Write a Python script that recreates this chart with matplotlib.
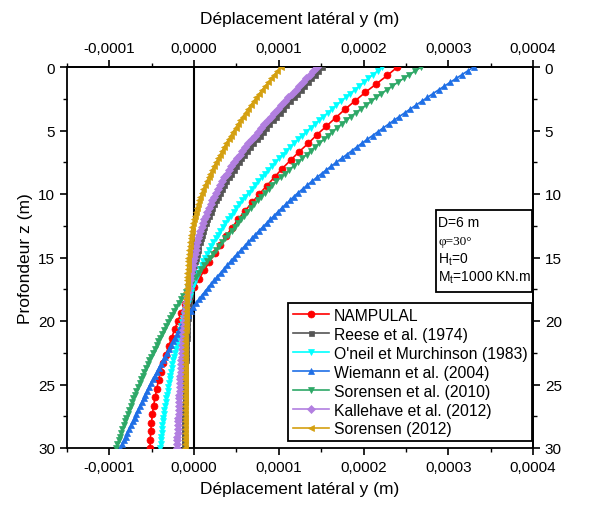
import numpy as np
import matplotlib
matplotlib.use('Agg')
import matplotlib.pyplot as plt
from matplotlib.ticker import MultipleLocator, FuncFormatter, FixedLocator
from matplotlib.patches import Rectangle

plt.rcParams['font.family'] = ['Liberation Sans', 'DejaVu Sans']
plt.rcParams['mathtext.fontset'] = 'custom'
plt.rcParams['mathtext.rm'] = 'Liberation Sans'
plt.rcParams['mathtext.it'] = 'Liberation Sans:italic'

# lateral displacement values in units of 1e-5 m
SCALE = 1e-5
depth_fine = np.linspace(0, 30, 101)      # 101 depths, 0.3 m step
depth_red = np.linspace(0, 30, 46)        # 46 depths for NAMPULAL

x_ticks = [-0.0001, 0.0, 0.0001, 0.0002, 0.0003, 0.0004]
x_minor = [-0.00015, -0.00005, 0.00005, 0.00015, 0.00025, 0.00035]
y_ticks = [0, 5, 10, 15, 20, 25, 30]
y_minor = [2.5, 7.5, 12.5, 17.5, 22.5, 27.5]

nampulal = [24.0, 22.8, 21.5, 20.2, 19.0, 17.8, 16.7, 15.6, 14.5, 13.5,
            12.4, 11.4, 10.4, 9.5, 8.6, 7.7, 6.85, 6.0, 5.2, 4.45,
            3.75, 3.1, 2.45, 1.8, 1.2, 0.6, 0.0, -0.55, -1.05, -1.5,
            -1.9, -2.3, -2.65, -3.0, -3.35, -3.65, -3.95, -4.2, -4.4, -4.6,
            -4.78, -4.92, -5.03, -5.11, -5.17, -5.2]

reese = [15.1, 14.68, 14.26, 13.84, 13.42, 13.0, 12.58, 12.16, 11.74, 11.32,
         10.9, 10.5, 10.09, 9.69, 9.29, 8.9, 8.51, 8.13, 7.75, 7.38,
         7.0, 6.64, 6.28, 5.92, 5.59, 5.28, 4.96, 4.66, 4.37, 4.09,
         3.8, 3.55, 3.29, 3.04, 2.8, 2.58, 2.35, 2.14, 1.94, 1.75,
         1.55, 1.39, 1.22, 1.06, 0.91, 0.78, 0.64, 0.52, 0.41, 0.31,
         0.2, 0.11, 0.02, -0.07, -0.14, -0.21, -0.28, -0.34, -0.39, -0.45,
         -0.5, -0.55, -0.59, -0.64, -0.67, -0.71, -0.75, -0.78, -0.81, -0.84,
         -0.87, -0.89, -0.91, -0.93, -0.95, -0.97, -0.99, -1.01, -1.02, -1.04,
         -1.05, -1.06, -1.07, -1.09, -1.10, -1.11, -1.11, -1.12, -1.13, -1.14,
         -1.15, -1.16, -1.16, -1.17, -1.17, -1.18, -1.19, -1.19, -1.19, -1.2,
         -1.2]

oneil = [22.2, 21.66, 21.12, 20.58, 20.04, 19.5, 18.96, 18.42, 17.88, 17.34,
         16.8, 16.29, 15.78, 15.27, 14.76, 14.25, 13.74, 13.24, 12.76, 12.28,
         11.8, 11.35, 10.9, 10.45, 10.02, 9.6, 9.18, 8.77, 8.38, 7.99,
         7.6, 7.21, 6.82, 6.43, 6.06, 5.7, 5.34, 4.99, 4.66, 4.33,
         4.0, 3.7, 3.4, 3.1, 2.82, 2.55, 2.28, 2.02, 1.78, 1.54,
         1.3, 1.09, 0.88, 0.67, 0.48, 0.3, 0.12, -0.05, -0.2, -0.35,
         -0.5, -0.64, -0.77, -0.91, -1.03, -1.15, -1.27, -1.39, -1.51, -1.63,
         -1.75, -1.86, -1.96, -2.07, -2.17, -2.28, -2.38, -2.48, -2.57, -2.66,
         -2.75, -2.83, -2.9, -2.98, -3.05, -3.13, -3.2, -3.28, -3.35, -3.43,
         -3.5, -3.56, -3.62, -3.68, -3.73, -3.78, -3.82, -3.87, -3.91, -3.96,
         -4.0]

wiemann = [33.0, 32.31, 31.62, 30.93, 30.24, 29.55, 28.86, 28.18, 27.52, 26.86,
           26.2, 25.54, 24.88, 24.22, 23.58, 22.95, 22.32, 21.69, 21.06, 20.43,
           19.8, 19.2, 18.6, 18.0, 17.4, 16.8, 16.2, 15.61, 15.04, 14.47,
           13.9, 13.36, 12.82, 12.28, 11.78, 11.3, 10.82, 10.35, 9.9, 9.45,
           9.0, 8.55, 8.1, 7.65, 7.22, 6.8, 6.38, 5.96, 5.54, 5.12,
           4.7, 4.31, 3.92, 3.53, 3.14, 2.75, 2.36, 1.98, 1.62, 1.26,
           0.9, 0.57, 0.24, -0.09, -0.4, -0.7, -1.0, -1.28, -1.52, -1.76,
           -2.0, -2.24, -2.48, -2.72, -2.96, -3.2, -3.44, -3.68, -3.92, -4.16,
           -4.4, -4.64, -4.88, -5.12, -5.34, -5.55, -5.76, -5.97, -6.18, -6.39,
           -6.6, -6.81, -7.02, -7.23, -7.44, -7.65, -7.86, -8.07, -8.28, -8.49,
           -8.7]

sorensen2010 = [26.8, 26.11, 25.42, 24.73, 24.06, 23.4, 22.74, 22.1, 21.5, 20.9,
                20.3, 19.7, 19.1, 18.5, 17.94, 17.4, 16.86, 16.33, 15.82, 15.31,
                14.8, 14.29, 13.78, 13.27, 12.76, 12.25, 11.74, 11.23, 10.72, 10.21,
                9.7, 9.25, 8.8, 8.35, 7.92, 7.5, 7.08, 6.67, 6.28, 5.89,
                5.5, 5.14, 4.78, 4.42, 4.06, 3.7, 3.34, 2.98, 2.62, 2.26,
                1.9, 1.56, 1.21, 0.87, 0.54, 0.23, -0.09, -0.4, -0.7, -1.0,
                -1.3, -1.57, -1.84, -2.11, -2.36, -2.6, -2.84, -3.08, -3.32, -3.56,
                -3.8, -4.01, -4.22, -4.43, -4.64, -4.85, -5.06, -5.27, -5.48, -5.69,
                -5.9, -6.08, -6.26, -6.44, -6.62, -6.8, -6.98, -7.16, -7.32, -7.49,
                -7.65, -7.82, -7.98, -8.15, -8.3, -8.45, -8.6, -8.75, -8.9, -9.05,
                -9.2]

kallehave = [14.5, 14.08, 13.66, 13.24, 12.82, 12.4, 11.98, 11.56, 11.14, 10.72,
             10.3, 9.9, 9.49, 9.09, 8.69, 8.3, 7.91, 7.53, 7.15, 6.78,
             6.4, 6.06, 5.71, 5.37, 5.04, 4.73, 4.41, 4.11, 3.84, 3.57,
             3.3, 3.06, 2.82, 2.58, 2.36, 2.15, 1.94, 1.74, 1.56, 1.38,
             1.2, 1.05, 0.9, 0.75, 0.62, 0.5, 0.38, 0.27, 0.18, 0.09,
             0.0, -0.09, -0.18, -0.27, -0.35, -0.43, -0.5, -0.58, -0.65, -0.73,
             -0.8, -0.86, -0.92, -0.98, -1.03, -1.08, -1.12, -1.17, -1.21, -1.26,
             -1.3, -1.33, -1.36, -1.39, -1.42, -1.45, -1.48, -1.51, -1.54, -1.57,
             -1.6, -1.62, -1.63, -1.65, -1.67, -1.7, -1.73, -1.76, -1.77, -1.79,
             -1.8, -1.83, -1.86, -1.89, -1.91, -1.93, -1.94, -1.96, -1.97, -1.99,
             -2.0]

sorensen2012 = [10.2, 9.84, 9.48, 9.12, 8.76, 8.4, 8.04, 7.69, 7.36, 7.03,
                6.7, 6.39, 6.07, 5.76, 5.46, 5.18, 4.89, 4.61, 4.34, 4.07,
                3.8, 3.56, 3.32, 3.08, 2.84, 2.6, 2.36, 2.13, 1.92, 1.71,
                1.5, 1.31, 1.11, 0.92, 0.75, 0.6, 0.45, 0.31, 0.19, 0.07,
                -0.05, -0.13, -0.21, -0.29, -0.36, -0.42, -0.48, -0.53, -0.58, -0.62,
                -0.66, -0.69, -0.73, -0.76, -0.79, -0.82, -0.84, -0.87, -0.88, -0.9,
                -0.92, -0.94, -0.95, -0.97, -0.98, -0.99, -1.0, -1.0, -1.01, -1.01,
                -1.02, -1.02, -1.03, -1.03, -1.03, -1.04, -1.04, -1.04, -1.04, -1.05,
                -1.05, -1.05, -1.05, -1.05, -1.05, -1.05, -1.05, -1.05, -1.05, -1.05,
                -1.05, -1.05, -1.05, -1.05, -1.05, -1.05, -1.05, -1.05, -1.05, -1.05,
                -1.05]

labels = ['NAMPULAL', 'Reese et al. (1974)', "O'neil et Murchinson (1983)",
          'Wiemann et al. (2004)', 'Sorensen et al. (2010)',
          'Kallehave et al. (2012)', 'Sorensen (2012)']
values = [nampulal, reese, oneil, wiemann, sorensen2010, kallehave, sorensen2012]
depths = [depth_red, depth_fine, depth_fine, depth_fine, depth_fine, depth_fine, depth_fine]
colors = ['#FF0000', '#555555', '#00FFFF', '#1F6FE6', '#2EA867', '#B27FE0', '#D4A010']
markers = ['o', 's', 'v', '^', 'v', 'D', '<']
msizes = [5, 3.6, 4.6, 4.6, 4.6, 3.8, 4.6]

fig = plt.figure(figsize=(5.95, 5.10), dpi=100)
ax = fig.add_axes([67/595, 1-449/510, 466/595, 381/510])

ax.axvline(0, color='black', lw=1.5, zorder=1)

for lab, v, d, c, m, ms in zip(labels, values, depths, colors, markers, msizes):
    ax.plot(np.array(v) * SCALE, d, color=c, marker=m, markersize=ms,
            markeredgewidth=0.5, lw=1.2, label=lab, zorder=3)

ax.set_xlim(-0.00015, 0.0004)
ax.set_ylim(30, 0)

def fmt(v, p):
    s = f'{v:.4f}'.replace('.', ',')
    if s == '-0,0000':
        s = '0,0000'
    return s

secx = ax.secondary_xaxis('top')
secy = ax.secondary_yaxis('right')

for xa in [ax.xaxis, secx.xaxis]:
    xa.set_major_locator(FixedLocator(x_ticks))
    xa.set_minor_locator(FixedLocator(x_minor))
    xa.set_major_formatter(FuncFormatter(fmt))
for ya in [ax.yaxis, secy.yaxis]:
    ya.set_major_locator(FixedLocator(y_ticks))
    ya.set_minor_locator(FixedLocator(y_minor))

for a in [ax, secx, secy]:
    a.tick_params(which='major', direction='out', length=5, width=1.2, labelsize=11)
    a.tick_params(which='minor', direction='out', length=3, width=1.0)
    for sp in a.spines.values():
        sp.set_linewidth(1.3)

ax.set_xlabel('Déplacement latéral y (m)', fontsize=12.5, labelpad=5)
secx.set_xlabel('Déplacement latéral y (m)', fontsize=12.5, labelpad=13)
ax.set_ylabel('Profondeur z (m)', fontsize=12.5, labelpad=4)

leg = ax.legend(loc='lower right', bbox_to_anchor=(0.998, 0.018), frameon=True,
                fancybox=False, edgecolor='black', framealpha=1, fontsize=11.3,
                handlelength=2.3, handletextpad=0.3, borderpad=0.3,
                labelspacing=0.25, borderaxespad=0)
leg.get_frame().set_linewidth(1.3)

# parameter box
ax.add_patch(Rectangle((0.792, 0.409), 0.206, 0.216, transform=ax.transAxes,
                       facecolor='white', edgecolor='black', lw=1.3, zorder=5))
tx = 0.797
ax.text(tx, 0.593, 'D=6 m', transform=ax.transAxes, fontsize=10, va='center', zorder=6)
ax.text(tx, 0.544, 'φ=30°', transform=ax.transAxes, fontsize=9.5, va='center', zorder=6,
        family=['Liberation Serif', 'DejaVu Serif'])
ax.text(tx, 0.496, r'H$_\mathrm{t}$=0', transform=ax.transAxes, fontsize=10, va='center', zorder=6)
ax.text(tx, 0.449, r'M$_\mathrm{t}$=1000 KN.m', transform=ax.transAxes, fontsize=10, va='center', zorder=6)

fig.savefig('out.png', dpi=100)
